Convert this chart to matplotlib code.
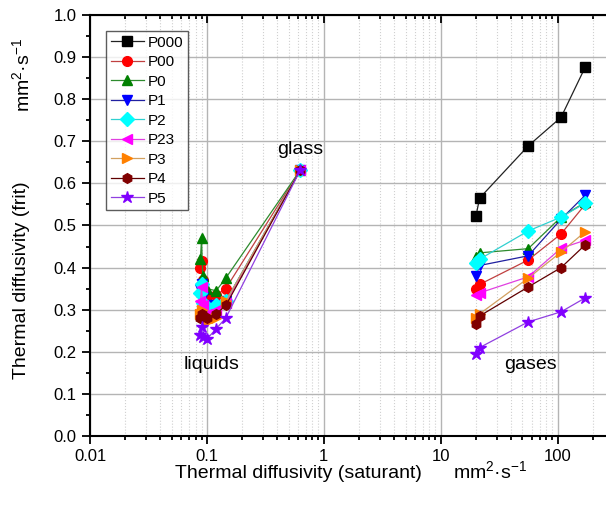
import matplotlib
matplotlib.use("Agg")
import matplotlib.pyplot as plt
from matplotlib.ticker import LogLocator, MultipleLocator, FixedLocator, FixedFormatter

plt.rcParams['font.family'] = ['Liberation Sans', 'DejaVu Sans']
plt.rcParams['mathtext.fontset'] = 'custom'
plt.rcParams['mathtext.rm'] = 'Liberation Sans'
plt.rcParams['mathtext.it'] = 'Liberation Sans:italic'

names = ['P000', 'P00', 'P0', 'P1', 'P2', 'P23', 'P3', 'P4', 'P5']
markers = ['s', 'o', '^', 'v', 'D', '<', '>', 'h', '*']
mcolors = ['black', 'red', 'green', 'blue', 'cyan', 'magenta', '#ff8000', '#800000', '#8000ff']
lcolors = ['#222222', '#c04040', '#2e8b2e', '#2020a0', '#30d0d0', '#e040e0', '#d2a060', '#600000', '#9040e0']

# liquids (saturant diffusivity, mm2/s) and glass point
x_liq = [0.088, 0.090, 0.092, 0.100, 0.120, 0.145]
x_glass = 0.63
y_glass = 0.632
y_liq = {
    'P00': [0.40, 0.415, 0.37, 0.33, 0.335, 0.35],
    'P0': [0.42, 0.47, 0.38, 0.35, 0.345, 0.375],
    'P1': [0.35, 0.36, 0.33, 0.31, 0.31, 0.32],
    'P2': [0.34, 0.36, 0.315, 0.30, 0.31, 0.32],
    'P23': [0.32, 0.355, 0.31, 0.29, 0.30, 0.315],
    'P3': [0.29, 0.30, 0.285, 0.27, 0.28, 0.32],
    'P4': [0.28, 0.29, 0.285, 0.28, 0.29, 0.31],
    'P5': [0.24, 0.26, 0.235, 0.23, 0.255, 0.28],
}

# gases
x_gas = [20, 21.5, 56, 107, 172]
y_gas = {
    'P000': [0.522, 0.565, 0.689, 0.757, 0.876],
    'P00': [0.35, 0.36, 0.418, 0.48, 0.55],
    'P0': [0.425, 0.435, 0.445, 0.52, 0.555],
    'P1': [0.38, 0.405, 0.428, 0.515, 0.572],
    'P2': [0.41, 0.42, 0.487, 0.52, 0.553],
    'P23': [0.335, 0.34, 0.378, 0.446, 0.465],
    'P3': [0.28, 0.29, 0.375, 0.437, 0.485],
    'P4': [0.265, 0.285, 0.354, 0.40, 0.454],
    'P5': [0.195, 0.21, 0.271, 0.295, 0.328],
}

fig = plt.figure(figsize=(6.06, 5.05), dpi=100)
ax = fig.add_axes([90/606, 69/505, 519/606, 421/505])

for i, n in enumerate(names):
    kw = dict(marker=markers[i], color=lcolors[i], mfc=mcolors[i], mec=mcolors[i],
              lw=0.9, ms=7 if markers[i] != '*' else 9)
    if n in y_liq:
        ax.plot(x_liq + [x_glass], y_liq[n] + [y_glass], **kw)
    ax.plot(x_gas, y_gas[n], label=n, **kw)

ax.set_xscale('log')
ax.set_xlim(0.01, 275)
ax.set_ylim(0, 1.0)
ax.xaxis.set_major_locator(FixedLocator([0.01, 0.1, 1, 10, 100]))
ax.xaxis.set_major_formatter(FixedFormatter(['0.01', '0.1', '1', '10', '100']))
ax.xaxis.set_minor_locator(LogLocator(base=10, subs=range(2, 10)))
ax.yaxis.set_major_locator(MultipleLocator(0.1))
ax.yaxis.set_minor_locator(MultipleLocator(0.05))
ax.set_yticklabels([f'{v:.1f}' for v in ax.get_yticks()])

ax.grid(True, which='major', color='#b4b4b4', lw=1.0)
ax.grid(True, which='minor', axis='x', color='#d0d0d0', lw=0.8, ls=':')
ax.set_axisbelow(True)

for s in ax.spines.values():
    s.set_linewidth(1.5)
ax.tick_params(which='both', labelsize=12, width=1.3)
ax.tick_params(which='major', length=6)
ax.tick_params(which='minor', length=3)
ax.tick_params(which='both', top=True, right=True, direction='out')
ax.tick_params(which='both', top=True, right=True, labeltop=False, labelright=False)
# top and right ticks point inward
for t in ax.xaxis.get_ticklines(minor=False)[1::2] + ax.xaxis.get_ticklines(minor=True)[1::2]:
    t.set_marker(3)
for t in ax.yaxis.get_ticklines(minor=False)[1::2] + ax.yaxis.get_ticklines(minor=True)[1::2]:
    t.set_marker(1)

ax.text(0.11, 0.17, 'liquids', fontsize=14, ha='center', va='center')
ax.text(0.63, 0.68, 'glass', fontsize=14, ha='center', va='center')
ax.text(58, 0.17, 'gases', fontsize=14, ha='center', va='center')

leg = ax.legend(loc='upper left', bbox_to_anchor=(0.031, 0.962), borderaxespad=0,
                fontsize=11, frameon=True, fancybox=False, edgecolor='#333333',
                labelspacing=0.36, handlelength=2.2, handletextpad=0.25, borderpad=0.3)
leg.get_frame().set_linewidth(1.0)

fig.text(298/606, 1 - 473/505, 'Thermal diffusivity (saturant)', fontsize=14, ha='center', va='center')
fig.text(490/606, 1 - 471/505, 'mm$^{2}$·s$^{-1}$', fontsize=14, ha='center', va='center')
fig.text(22/606, 1 - 280/505, 'Thermal diffusivity (frit)', fontsize=14, rotation=90, ha='center', va='center')
fig.text(22/606, 1 - 75/505, 'mm$^{2}$·s$^{-1}$', fontsize=14, rotation=90, ha='center', va='center')

fig.savefig('out.png', dpi=100)
